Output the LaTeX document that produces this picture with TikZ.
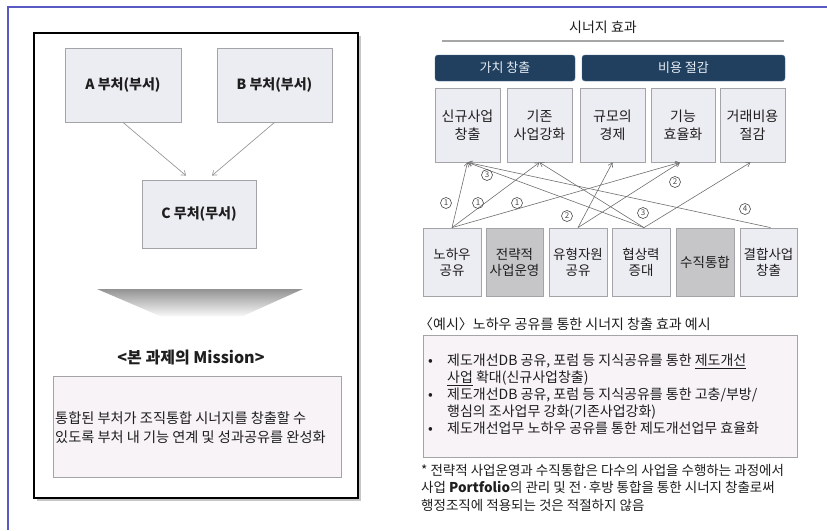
\documentclass[tikz,border=0pt]{standalone}
\usepackage{fontspec}
\setmainfont{Noto Sans CJK KR}
\usetikzlibrary{arrows.meta}
\definecolor{frameblue}{HTML}{5A5AC4}
\definecolor{boxfill}{HTML}{ECECF3}
\definecolor{boxline}{HTML}{A3A3A8}
\definecolor{darkfill}{HTML}{C6C6C8}
\definecolor{navy}{HTML}{21405F}
\definecolor{navyline}{HTML}{4A6583}
\definecolor{hdrtext}{HTML}{E6ECF3}
\definecolor{linkgray}{HTML}{6E6E6E}
\definecolor{numgray}{HTML}{4A4A4A}
\definecolor{pinkfill}{HTML}{F7F3F7}
\definecolor{txt}{HTML}{1E1E1E}
\begin{document}
\begin{tikzpicture}[x=1pt,y=-1pt,
  unit/.style={draw=boxline, fill=boxfill, line width=0.8pt, inner sep=0pt, align=center, text=txt, font=\fontsize{14}{18}\selectfont},
  darkunit/.style={unit, fill=darkfill},
  leftunit/.style={unit, font=\fontsize{14}{16}\selectfont\bfseries},
  hdr/.style={draw=navyline, fill=navy, rounded corners=3pt, text=hdrtext, font=\fontsize{13}{15}\selectfont, minimum height=26pt, inner sep=0pt},
  lnk/.style={draw=linkgray, line width=0.6pt, -{Straight Barb[length=4pt,width=5pt]}},
  leftlnk/.style={draw=gray!80, line width=0.7pt, -{Straight Barb[length=4pt,width=6pt]}},
  num/.style={circle, draw=numgray, line width=0.6pt, inner sep=0pt, minimum size=11pt, font=\fontsize{8}{8}\selectfont, text=numgray},
  plain/.style={text=txt, inner sep=0pt}
]
\useasboundingbox (0,0) rectangle (827,530);
% outer frame lines
\coordinate (fl) at (8,530);
\coordinate (fc) at (8,7);
\coordinate (fr) at (827,7);
\draw[frameblue, line width=1.6pt] (fl) -- (fc) -- (fr);

% ---------------- left panel ----------------
\fill[gray!45] (36.5,35.5) rectangle (360.5,500.5);
\node[draw=black, fill=white, line width=1.8pt, minimum width=324pt, minimum height=465pt, inner sep=0pt] (panel) at (196,265.5) {};

\node[leftunit, minimum width=116pt, minimum height=74pt] (A) at (123,85) {A 부처(부서)};
\node[leftunit, minimum width=115pt, minimum height=74pt] (B) at (274.5,85) {B 부처(부서)};
\node[leftunit, minimum width=114pt, minimum height=68pt] (C) at (199,214) {C 무처(무서)};
\draw[leftlnk] (A.south) -- ([xshift=-13pt,yshift=4pt]C.north);
\draw[leftlnk] (B.south) -- ([xshift=13pt,yshift=4pt]C.north);

\shade[top color=gray!85, bottom color=gray!6] (97,289) -- (303,289) -- (243,316) -- (160,316) -- cycle;

\node[plain, font=\fontsize{16}{18}\selectfont\bfseries] (mtitle) at (191,358) {<본 과제의 Mission>};
\node[draw=boxline, fill=pinkfill, line width=0.8pt, minimum width=288pt, minimum height=101pt, inner sep=0pt] (mbox) at (197,426.5) {};
\node[plain, anchor=west, align=left, font=\fontsize{14.2}{19}\selectfont] (mtext) at (55,427.5) {통합된 부처가 조직통합 시너지를 창출할 수\\있도록 부처 내 기능 연계 및 성과공유를 완성화};

% ---------------- right panel ----------------
\node[plain, font=\fontsize{14}{16}\selectfont] (syn) at (603,27) {시너지 효과};
\coordinate (sl) at (442,41);
\coordinate (sr) at (784,41);
\draw[gray!70, line width=2.5pt] (sl) -- (sr);

\node[hdr, minimum width=140pt] (h1) at (505,68) {가치 창출};
\node[hdr, minimum width=203pt] (h2) at (683.5,68) {비용 절감};

\node[unit, minimum width=65pt, minimum height=74pt] (n1) at (467.5,125) {신규사업\\창출};
\node[unit, minimum width=65pt, minimum height=74pt] (n2) at (539.5,125) {기존\\사업강화};
\node[unit, minimum width=65pt, minimum height=74pt] (n3) at (612.5,125) {규모의\\경제};
\node[unit, minimum width=64pt, minimum height=74pt] (n4) at (683,125) {기능\\효율화};
\node[unit, minimum width=65pt, minimum height=74pt] (n5) at (752.5,125) {거래비용\\절감};

\node[unit, minimum width=58pt, minimum height=68pt, font=\fontsize{13.5}{16}\selectfont] (b1) at (452,262) {노하우\\공유};
\node[darkunit, minimum width=57pt, minimum height=68pt, font=\fontsize{13.5}{16}\selectfont] (b2) at (514.5,262) {전략적\\사업운영};
\node[unit, minimum width=58pt, minimum height=68pt, font=\fontsize{13.5}{16}\selectfont] (b3) at (578,262) {유형자원\\공유};
\node[unit, minimum width=58pt, minimum height=68pt, font=\fontsize{13.5}{16}\selectfont] (b4) at (641,262) {협상력\\증대};
\node[darkunit, minimum width=58pt, minimum height=68pt, font=\fontsize{13.5}{16}\selectfont] (b5) at (705,262) {수직통합};
\node[unit, minimum width=57pt, minimum height=68pt, font=\fontsize{13.5}{16}\selectfont] (b6) at (768.5,262) {결합사업\\창출};

% connectors
\draw[lnk] (b1.north) -- (n1.south);
\draw[lnk] (b1.north) -- (n2.south);
\draw[lnk] (b1.north) -- ([xshift=-3pt]n4.south);
\draw[lnk] (b3.north) -- (n3.south);
\draw[lnk] (b3.north) -- ([xshift=-3pt]n4.south);
\draw[lnk] ([xshift=3pt]b4.north) -- (n1.south);
\draw[lnk] ([xshift=3pt]b4.north) -- (n2.south);
\draw[lnk] ([xshift=3pt]b4.north) -- ([xshift=-2pt]n5.south);
\draw[lnk] ([xshift=2pt]b6.north) -- (n1.south);

% number labels
\node[num] (c1a) at (446,203) {1};
\node[num] (c1b) at (478,203) {1};
\node[num] (c1c) at (517,203) {1};
\node[num] (c2a) at (567,216) {2};
\node[num] (c2b) at (675,182) {2};
\node[num] (c3a) at (487,175) {3};
\node[num] (c3b) at (643,213) {3};
\node[num] (c4) at (745,209) {4};

% example
\node[plain, anchor=west, font=\fontsize{14}{16}\selectfont] (extitle) at (419,324) {〈예시〉노하우 공유를 통한 시너지 창출 효과 예시};
\node[draw=boxline, fill=pinkfill, line width=0.8pt, minimum width=374pt, minimum height=122pt, inner sep=0pt] (exbox) at (610,396) {};
\node[plain, anchor=north west, align=left, font=\fontsize{14}{17}\selectfont] (extext) at (428,354) {\makebox[19pt][l]{•}제도개선DB 공유, 포럼 등 지식공유를 통한 \underline{제도개선}\\
\hspace*{19pt}\underline{사업} 확대(신규사업창출)\\
\makebox[19pt][l]{•}제도개선DB 공유, 포럼 등 지식공유를 통한 고충/부방/\\
\hspace*{19pt}행심의 조사업무 강화(기존사업강화)\\
\makebox[19pt][l]{•}제도개선업무 노하우 공유를 통한 제도개선업무 효율화};

\node[plain, anchor=north west, align=left, font=\fontsize{13.5}{17.5}\selectfont] (foot) at (421,464) {* 전략적 사업운영과 수직통합은 다수의 사업을 수행하는 과정에서\\
사업 \textbf{Portfolio}의 관리 및 전·후방 통합을 통한 시너지 창출로써\\
행정조직에 적용되는 것은 적절하지 않음};
\end{tikzpicture}
\end{document}
